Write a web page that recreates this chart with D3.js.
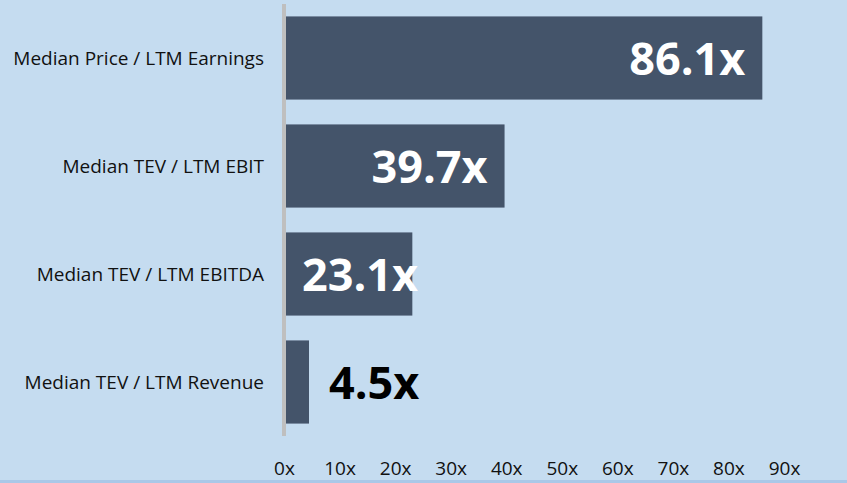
<!DOCTYPE html>
<html>
<head>
<meta charset="utf-8">
<script src="https://cdn.jsdelivr.net/npm/d3@7"></script>
<style>
  body { margin: 0; background: #c5dcf0; }
  svg { display: block; }
  text { font-family: "Open Sans", sans-serif; }
</style>
</head>
<body>
<svg id="chart"></svg>
<script>
    // chart data
    var categories = ["Median Price / LTM Earnings", "Median TEV / LTM EBIT", "Median TEV / LTM EBITDA", "Median TEV / LTM Revenue"];
    var multiples = [86.1, 39.7, 23.1, 4.5];
    var tickValues = [0, 10, 20, 30, 40, 50, 60, 70, 80, 90];

    var width = 847;
    var height = 483;

    var data = categories.map(function (c, i) { return { label: c, value: multiples[i] }; });

    var svg = d3.select("#chart")
        .attr("width", width)
        .attr("height", height);

    svg.append("rect")
        .attr("width", width)
        .attr("height", height)
        .attr("fill", "#c5dcf0");

    // thin darker strip along the bottom edge
    svg.append("rect")
        .attr("x", 0)
        .attr("y", height - 3)
        .attr("width", width)
        .attr("height", 3)
        .attr("fill", "#aac8e8");

    var xScale = d3.scaleLinear()
        .domain([0, 90])
        .range([284, 784]);

    var yScale = d3.scaleBand()
        .domain(categories)
        .range([4, 436])
        .paddingInner(0.23)
        .paddingOuter(0.115);

    // bars
    svg.selectAll(".bar")
        .data(data)
        .enter().append("rect")
        .attr("class", "bar")
        .attr("x", xScale(0))
        .attr("y", function (d) { return yScale(d.label); })
        .attr("width", function (d) { return xScale(d.value) - xScale(0); })
        .attr("height", yScale.bandwidth())
        .attr("fill", "#44546a");

    // vertical axis line
    svg.append("line")
        .attr("x1", xScale(0))
        .attr("x2", xScale(0))
        .attr("y1", 4)
        .attr("y2", 436)
        .attr("stroke", "#bfbfbf")
        .attr("stroke-width", 4);

    // category labels
    svg.selectAll(".cat")
        .data(data)
        .enter().append("text")
        .attr("class", "cat")
        .attr("x", 264)
        .attr("y", function (d) { return yScale(d.label) + yScale.bandwidth() / 2 + 7; })
        .attr("text-anchor", "end")
        .style("font-size", "19px")
        .style("fill", "#111")
        .text(function (d) { return d.label; });

    // value labels
    svg.selectAll(".val")
        .data(data)
        .enter().append("text")
        .attr("class", "val")
        .attr("y", function (d) { return yScale(d.label) + yScale.bandwidth() / 2 + 17; })
        .style("font-size", "45px")
        .style("font-weight", "bold")
        .text(function (d) { return d.value.toFixed(1) + "x"; })
        .each(function (d) {
            var w = this.getComputedTextLength();
            var barW = xScale(d.value) - xScale(0);
            var el = d3.select(this);
            if (barW >= w) {
                var end = Math.max(xScale(d.value) - 17, xScale(0) + 18 + w);
                el.attr("x", end).attr("text-anchor", "end").style("fill", "#fff");
            } else {
                el.attr("x", xScale(d.value) + 20).attr("text-anchor", "start").style("fill", "#000");
            }
        });

    // x axis tick labels
    var xAxis = svg.append("g")
        .attr("class", "x-axis")
        .attr("transform", "translate(0,475)")
        .call(d3.axisBottom(xScale)
            .tickValues(tickValues)
            .tickSize(0)
            .tickPadding(0)
            .tickFormat(function (d) { return d + "x"; }));

    xAxis.select(".domain").remove();
    xAxis.selectAll("text")
        .attr("dy", 0)
        .attr("y", 0)
        .style("font-family", "'Open Sans', sans-serif")
        .style("font-size", "19px")
        .style("fill", "#111");
</script>
</body>
</html>
